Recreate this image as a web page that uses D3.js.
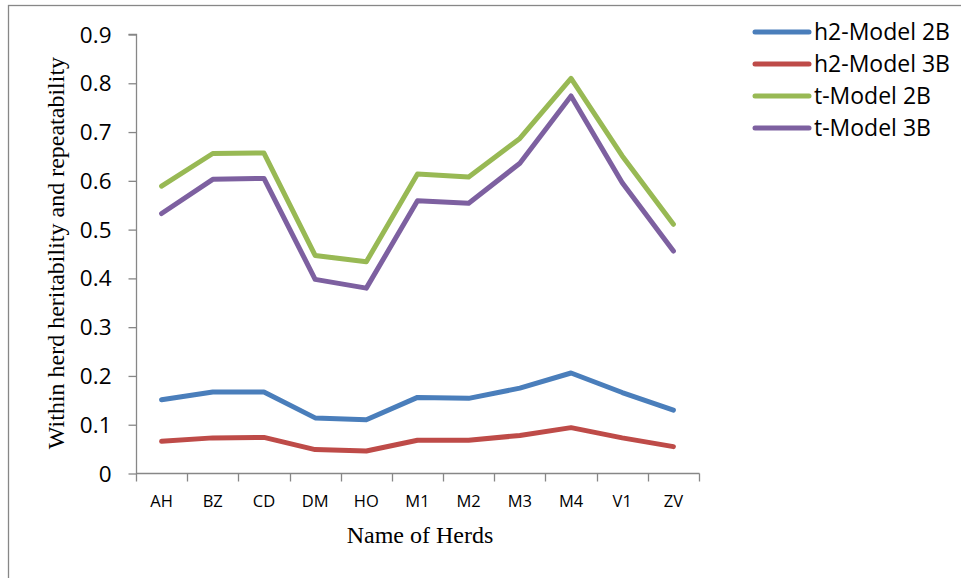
<!DOCTYPE html>
<html>
<head>
<meta charset="utf-8">
<script src="https://cdn.jsdelivr.net/npm/d3@7"></script>
<style>
  html, body { margin: 0; padding: 0; background: #fff; }
  svg { display: block; }
  .tick-label { font-family: "Open Sans", "Liberation Sans", sans-serif; fill: #000; }
</style>
</head>
<body>
<svg id="chart" width="961" height="578"></svg>
<script>
// Herds along the x axis
const herds = ["AH", "BZ", "CD", "DM", "HO", "M1", "M2", "M3", "M4", "V1", "ZV"];

// Within-herd heritability (h2) and repeatability (t) per model
const h2Model2B = [0.150, 0.166, 0.166, 0.113, 0.109, 0.155, 0.153, 0.174, 0.205, 0.165, 0.129];
const h2Model3B = [0.065, 0.072, 0.073, 0.048, 0.045, 0.067, 0.067, 0.077, 0.093, 0.072, 0.054];
const tModel2B  = [0.588, 0.655, 0.656, 0.446, 0.433, 0.613, 0.607, 0.686, 0.809, 0.650, 0.510];
const tModel3B  = [0.532, 0.602, 0.604, 0.397, 0.379, 0.558, 0.553, 0.635, 0.773, 0.595, 0.455];

const seriesNames = ["h2-Model 2B", "h2-Model 3B", "t-Model 2B", "t-Model 3B"];
const seriesColors = ["#4A7EBB", "#BE4B48", "#98B954", "#7D60A0"];
const yTicks = [0, 0.1, 0.2, 0.3, 0.4, 0.5, 0.6, 0.7, 0.8, 0.9];

const series = [h2Model2B, h2Model3B, tModel2B, tModel3B].map((values, i) => ({
  name: seriesNames[i], color: seriesColors[i], values
}));

const svg = d3.select("#chart");
const axisColor = "#878787";

// Outer frame
svg.append("rect")
  .attr("x", 8.5).attr("y", 5.5)
  .attr("width", 1000).attr("height", 1000)
  .attr("fill", "none").attr("stroke", axisColor).attr("stroke-width", 1.3);

const plot = { left: 136, right: 699, top: 34, bottom: 473 };

const x = d3.scaleBand().domain(herds).range([plot.left, plot.right]).padding(0);
const y = d3.scaleLinear().domain([0, 0.9]).range([plot.bottom, plot.top]);

// Y axis
const yAxis = svg.append("g")
  .attr("transform", `translate(${plot.left + 0.5},0)`)
  .call(d3.axisLeft(y).tickValues(yTicks).tickSize(8).tickPadding(17)
    .tickFormat(d => d === 0 ? "0" : d3.format(".1f")(d)));
yAxis.selectAll("path, line").attr("stroke", axisColor).attr("stroke-width", 1.3);
yAxis.select(".domain").attr("d", `M-8,${y(0.9) + 0.5}H0V${plot.bottom + 0.5}`);
yAxis.selectAll(".tick line").attr("transform", "translate(0,0.5)");
yAxis.selectAll("text")
  .attr("class", "tick-label")
  .attr("font-size", 22.5)
  .attr("dy", "0.36em");

// X axis with tick marks at the category boundaries
const xAxisG = svg.append("g").attr("transform", `translate(0,${plot.bottom + 0.5})`);
xAxisG.append("line")
  .attr("x1", plot.left).attr("x2", plot.right + 0.5)
  .attr("stroke", axisColor).attr("stroke-width", 1.3);
const bounds = herds.map(h => x(h)).concat([plot.right]);
xAxisG.selectAll("line.tk").data(bounds).join("line")
  .attr("class", "tk")
  .attr("x1", d => Math.round(d) + 0.5).attr("x2", d => Math.round(d) + 0.5)
  .attr("y1", 0).attr("y2", 8)
  .attr("stroke", axisColor).attr("stroke-width", 1.3);
xAxisG.selectAll("text").data(herds).join("text")
  .attr("class", "tick-label")
  .attr("x", d => x(d) + x.bandwidth() / 2)
  .attr("y", 33)
  .attr("text-anchor", "middle")
  .attr("font-size", 16.5)
  .text(d => d);

// Lines
const line = d3.line()
  .x((d, i) => x(herds[i]) + x.bandwidth() / 2)
  .y(d => y(d));

svg.append("g").selectAll("path").data(series).join("path")
  .attr("d", d => line(d.values))
  .attr("fill", "none")
  .attr("stroke", d => d.color)
  .attr("stroke-width", 5)
  .attr("stroke-linejoin", "round")
  .attr("stroke-linecap", "round");

// Axis titles
svg.append("text")
  .attr("transform", `translate(64,253) rotate(-90)`)
  .attr("text-anchor", "middle")
  .attr("font-family", "'Liberation Serif', 'Times New Roman', serif")
  .attr("font-size", 24)
  .text("Within herd heritability and repeatability");

svg.append("text")
  .attr("x", 420).attr("y", 543)
  .attr("text-anchor", "middle")
  .attr("font-family", "'Liberation Serif', 'Times New Roman', serif")
  .attr("font-size", 24)
  .text("Name of Herds");

// Legend
const legend = svg.append("g").selectAll("g").data(series).join("g")
  .attr("transform", (d, i) => `translate(755,${32 + i * 32})`);
legend.append("line")
  .attr("x1", 0).attr("x2", 54)
  .attr("stroke", d => d.color)
  .attr("stroke-width", 5)
  .attr("stroke-linecap", "round");
legend.append("text")
  .attr("class", "tick-label")
  .attr("x", 59).attr("y", 0)
  .attr("dy", "0.36em")
  .attr("font-size", 23)
  .text(d => d.name);
</script>
</body>
</html>
